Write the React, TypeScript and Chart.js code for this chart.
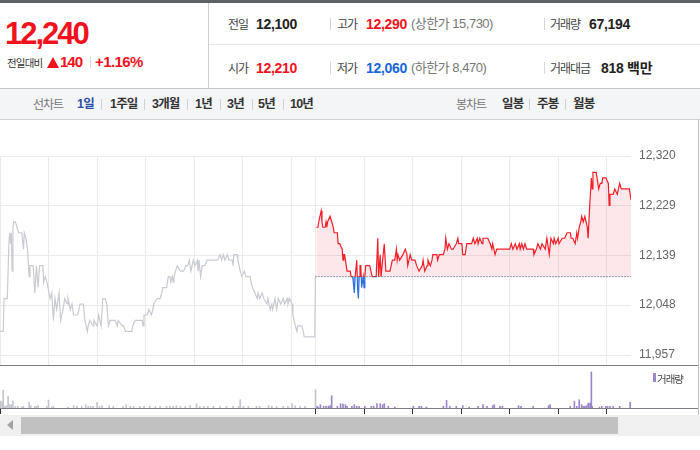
import React, { useEffect, useRef } from 'react';
import { Chart, registerables } from 'chart.js';

Chart.register(...registerables);

// ---------- data ----------
const PREV_CLOSE = 12100;
const Y_MIN = 11938.76;
const Y_MAX = 12320;
const yTickValues = [11957, 12048, 12139, 12229, 12320];
const xGridMinutes = [0, 60, 120, 180, 240, 300, 360, 390, 450, 510, 570, 630, 690, 750];
const volTickMinutes = [0, 390, 450, 510, 570, 630, 690, 750];
const X_MAX = 780;
const VOL_MAX = 12700;

// previous trading day (minutes from 09:00 of previous day)
const prevMinutes = [0, 4, 5, 9, 11, 12, 13, 14, 15, 16, 17, 19, 21, 23, 27, 29, 30, 32, 34, 36, 37, 41, 43, 45, 47, 49, 53, 54, 56, 58, 62, 64, 66, 68, 70, 73, 75, 78, 80, 83, 84, 87, 89, 91, 96, 99, 103, 105, 108, 109, 111, 115, 116, 120, 122, 125, 127, 130, 132, 134, 136, 142, 145, 146, 151, 153, 155, 163, 164, 167, 176, 177, 178, 182, 184, 187, 189, 190, 194, 198, 200, 201, 206, 208, 210, 211, 213, 214, 215, 219, 223, 227, 230, 232, 234, 236, 239, 241, 244, 245, 246, 248, 250, 253, 256, 269, 272, 274, 276, 278, 281, 283, 287, 288, 289, 293, 294, 297, 299, 302, 304, 309, 312, 315, 318, 319, 321, 324, 326, 330, 331, 334, 336, 337, 340, 342, 344, 347, 350, 352, 355, 356, 358, 361, 362, 365, 367, 368, 373, 375, 376, 389, 390];
const prevPrices = [12000, 12000, 12060, 12060, 12160, 12180, 12160, 12180, 12110, 12190, 12200, 12200, 12190, 12180, 12180, 12150, 12180, 12170, 12150, 12100, 12120, 12120, 12070, 12120, 12080, 12120, 12120, 12090, 12100, 12090, 12060, 12070, 12020, 12060, 12040, 12070, 12020, 12040, 12060, 12050, 12060, 12040, 12050, 12030, 12030, 12050, 12050, 12020, 12000, 12010, 12020, 12010, 12020, 12010, 12030, 12010, 12060, 12060, 12050, 12010, 12020, 12020, 12010, 12020, 12010, 12010, 12000, 12000, 12010, 12020, 12020, 12010, 12030, 12030, 12040, 12030, 12040, 12050, 12060, 12060, 12070, 12080, 12080, 12100, 12100, 12090, 12100, 12090, 12100, 12120, 12110, 12110, 12120, 12120, 12130, 12110, 12130, 12120, 12130, 12110, 12130, 12100, 12120, 12120, 12130, 12130, 12140, 12130, 12140, 12130, 12140, 12130, 12130, 12120, 12140, 12140, 12130, 12110, 12100, 12110, 12100, 12100, 12080, 12070, 12060, 12070, 12060, 12070, 12060, 12050, 12060, 12040, 12050, 12040, 12060, 12040, 12060, 12050, 12060, 12050, 12060, 12050, 12060, 12050, 12030, 12010, 12000, 12010, 12010, 12000, 11990, 11990, 12100];

// current trading day (minutes, continuing after previous day)
const curMinutes = [391, 393, 394, 397, 398, 399, 402, 403, 404, 405, 408, 410, 412, 413, 417, 418, 420, 423, 424, 425, 426, 428, 429, 433, 434, 436, 438, 439, 441, 442, 443, 444, 445, 446, 447, 449, 450, 451, 452, 457, 460, 465, 467, 468, 470, 471, 473, 475, 477, 482, 485, 488, 490, 491, 492, 494, 498, 501, 503, 504, 507, 509, 513, 515, 518, 522, 523, 525, 528, 529, 532, 534, 535, 540, 541, 543, 548, 550, 551, 553, 555, 558, 560, 564, 566, 567, 571, 572, 575, 577, 583, 585, 587, 590, 591, 593, 596, 597, 603, 606, 608, 609, 612, 614, 630, 632, 634, 637, 639, 642, 643, 645, 647, 649, 651, 659, 660, 663, 665, 668, 670, 674, 676, 679, 681, 684, 685, 687, 690, 691, 695, 698, 701, 705, 706, 708, 711, 713, 714, 716, 718, 719, 721, 723, 726, 727, 729, 731, 732, 733, 737, 738, 740, 742, 744, 745, 749, 752, 753, 754, 758, 760, 763, 766, 768, 778, 780];
const curPrices = [12190, 12190, 12200, 12220, 12200, 12190, 12190, 12200, 12190, 12200, 12210, 12200, 12190, 12180, 12180, 12160, 12160, 12150, 12130, 12140, 12140, 12120, 12110, 12110, 12100, 12100, 12070, 12100, 12130, 12080, 12060, 12100, 12120, 12120, 12080, 12100, 12080, 12100, 12120, 12120, 12100, 12100, 12170, 12100, 12140, 12100, 12130, 12160, 12110, 12110, 12130, 12130, 12150, 12130, 12140, 12130, 12140, 12150, 12140, 12120, 12140, 12130, 12130, 12120, 12110, 12120, 12130, 12110, 12120, 12130, 12120, 12130, 12140, 12140, 12130, 12140, 12140, 12150, 12170, 12150, 12160, 12150, 12150, 12160, 12170, 12160, 12160, 12140, 12140, 12160, 12160, 12170, 12160, 12170, 12160, 12170, 12160, 12170, 12170, 12160, 12150, 12160, 12140, 12150, 12150, 12160, 12150, 12160, 12150, 12160, 12150, 12160, 12150, 12160, 12150, 12150, 12140, 12150, 12160, 12150, 12160, 12150, 12170, 12140, 12170, 12160, 12170, 12160, 12170, 12160, 12170, 12170, 12180, 12180, 12170, 12170, 12160, 12180, 12170, 12190, 12200, 12210, 12200, 12210, 12190, 12170, 12230, 12280, 12260, 12290, 12290, 12280, 12260, 12270, 12270, 12280, 12280, 12270, 12230, 12250, 12250, 12260, 12250, 12270, 12260, 12260, 12240];

// volumes
const prevVolMinutes = [1, 3, 4, 6, 8, 10, 12, 14, 16, 19, 22, 27, 29, 36, 38, 43, 45, 47, 58, 60, 64, 66, 84, 91, 95, 101, 106, 109, 112, 115, 120, 123, 126, 135, 140, 152, 156, 161, 165, 173, 178, 185, 192, 198, 206, 210, 214, 218, 223, 229, 235, 243, 247, 252, 257, 264, 272, 280, 288, 295, 297, 301, 307, 317, 321, 332, 336, 342, 350, 356, 361, 365, 371, 377, 390];
const prevVolumes = [2100, 1800, 5400, 500, 700, 3500, 1000, 1000, 2100, 500, 500, 300, 500, 1700, 700, 500, 500, 700, 500, 2400, 300, 500, 300, 700, 500, 500, 1000, 500, 500, 500, 1700, 500, 700, 700, 500, 500, 1000, 500, 500, 500, 500, 500, 500, 500, 500, 500, 500, 700, 500, 500, 700, 1300, 500, 500, 500, 500, 500, 500, 500, 500, 2500, 500, 500, 500, 500, 700, 500, 500, 500, 500, 1300, 700, 500, 500, 5500];
const curVolMinutes = [392, 393, 396, 400, 403, 406, 408, 410, 417, 421, 424, 427, 429, 435, 438, 441, 444, 451, 459, 462, 466, 470, 473, 475, 480, 488, 511, 518, 521, 527, 548, 552, 556, 564, 572, 580, 591, 597, 602, 609, 611, 618, 621, 641, 644, 659, 678, 680, 705, 710, 713, 716, 719, 721, 723, 725, 727, 728, 730, 731, 732, 741, 744, 749, 751, 754, 758, 766, 779];
const curVolumes = [500, 300, 1000, 500, 500, 500, 700, 3700, 500, 1300, 1200, 1000, 500, 500, 1000, 500, 500, 500, 500, 500, 1300, 1300, 1000, 1300, 500, 300, 500, 500, 500, 300, 500, 2300, 500, 500, 700, 300, 500, 1000, 500, 700, 1000, 500, 500, 700, 500, 500, 700, 1000, 500, 2000, 500, 2500, 1000, 500, 500, 700, 1300, 1500, 1500, 10900, 500, 300, 500, 500, 500, 500, 500, 500, 1700];

// header figures
const currentPrice = '12,240';
const changeAbs = '140';
const changePct = '+1.16%';
const statRow1 = { prev: '12,100', high: '12,290', upper: '15,730', volume: '67,194' };
const statRow2 = { open: '12,210', low: '12,060', lower: '8,470', amount: '818' };
const lineRanges = ['1일', '1주일', '3개월', '1년', '3년', '5년', '10년'];
const candleRanges = ['일봉', '주봉', '월봉'];

// ---------- styles ----------
const RED = '#f21e28';
const BLUE = '#2b6fdc';
const TXT_RED = '#f0131e';
const TXT_BLUE = '#1a66d9';
const LATIN = '"Liberation Sans", "Noto Sans CJK KR", Arial, sans-serif';
const KR = '"Noto Sans CJK KR", "Liberation Sans", sans-serif';

const toXY = (xs: number[], ys: number[]) => xs.map((x, i) => ({ x, y: ys[i] }));

type TProps = { x: number; cy: number; size?: number; color?: string; weight?: number; ls?: number; family?: string; children: React.ReactNode };
const T = ({ x, cy, size = 12, color = '#333', weight = 400, ls = 0, family = LATIN, children }: TProps) => (
  <div style={{ position: 'absolute', left: x, top: cy - 10, height: 20, lineHeight: '20px', fontSize: size, color, fontWeight: weight, letterSpacing: ls, whiteSpace: 'nowrap', fontFamily: family }}>{children}</div>
);
const Sep = ({ x, cy, h = 12, color = '#d6d6d6' }: { x: number; cy: number; h?: number; color?: string }) => (
  <div style={{ position: 'absolute', left: x, top: cy - h / 2, width: 1, height: h, background: color }} />
);
const Box = (p: { l: number; t: number; w: number; h: number; bg: string; extra?: React.CSSProperties }) => (
  <div style={{ position: 'absolute', left: p.l, top: p.t, width: p.w, height: p.h, background: p.bg, ...(p.extra || {}) }} />
);

export default function App() {
  const priceRef = useRef<HTMLCanvasElement>(null);
  const volRef = useRef<HTMLCanvasElement>(null);

  useEffect(() => {
    const lineColor = (ctx: any) => {
      const chart = ctx.chart;
      const area = chart.chartArea;
      if (!area) return RED;
      const y0 = chart.scales.y.getPixelForValue(PREV_CLOSE);
      const g = chart.ctx.createLinearGradient(0, area.top, 0, area.bottom);
      const s = Math.min(1, Math.max(0, (y0 - area.top) / (area.bottom - area.top)));
      g.addColorStop(0, RED);
      g.addColorStop(s, RED);
      g.addColorStop(s, BLUE);
      g.addColorStop(1, BLUE);
      return g;
    };

    const price = new Chart(priceRef.current!, {
      type: 'line',
      data: {
        datasets: [
          { label: '전일종가', data: [{ x: 390, y: PREV_CLOSE }, { x: X_MAX, y: PREV_CLOSE }], borderColor: '#555', borderWidth: 1, borderDash: [1, 2], pointRadius: 0, fill: false, order: 0 },
          { label: '당일', data: toXY(curMinutes, curPrices), borderColor: lineColor, borderWidth: 1.2, pointRadius: 0, fill: { target: { value: PREV_CLOSE }, above: 'rgba(240,60,80,0.12)', below: 'rgba(50,120,225,0.45)' }, order: 1 },
          { label: '전일', data: toXY(prevMinutes, prevPrices), borderColor: '#c8cbd1', borderWidth: 1.2, pointRadius: 0, fill: false, order: 2 },
        ],
      },
      options: {
        responsive: false,
        animation: false,
        events: [],
        layout: { padding: { top: 36, left: 0, right: 0, bottom: 0 } },
        plugins: { legend: { display: false }, tooltip: { enabled: false } },
        scales: {
          x: {
            type: 'linear', min: 0, max: X_MAX,
            afterBuildTicks: (s: any) => { s.ticks = xGridMinutes.map((v) => ({ value: v })); },
            afterFit: (s: any) => { s.height = 0; s.paddingLeft = 0; s.paddingRight = 0; },
            ticks: { display: false },
            grid: { color: '#ebebeb', drawTicks: false },
            border: { display: false },
          },
          y: {
            type: 'linear', position: 'right', min: Y_MIN, max: Y_MAX,
            afterBuildTicks: (s: any) => { s.ticks = yTickValues.map((v) => ({ value: v })); },
            afterFit: (s: any) => { s.width = 69; s.paddingTop = 0; s.paddingBottom = 0; },
            ticks: { padding: 8, color: '#666', font: { size: 12, family: '"Liberation Sans", Arial, sans-serif' }, callback: (v: any) => Number(v).toLocaleString('en-US') },
            grid: { color: '#ebebeb', drawTicks: false },
            border: { display: false },
          },
        },
      },
    } as any);

    const vol = new Chart(volRef.current!, {
      type: 'bar',
      data: {
        datasets: [
          { label: '거래량(전일)', data: toXY(prevVolMinutes, prevVolumes), backgroundColor: '#c3c6cc', barThickness: 1, grouped: false },
          { label: '거래량', data: toXY(curVolMinutes, curVolumes), backgroundColor: '#9a86c9', barThickness: 1, grouped: false },
        ],
      },
      options: {
        responsive: false,
        animation: false,
        events: [],
        layout: { padding: { top: 0, left: 0, right: 69, bottom: 0 } },
        plugins: { legend: { display: false }, tooltip: { enabled: false } },
        scales: {
          x: {
            type: 'linear', min: 0, max: X_MAX, offset: false,
            afterBuildTicks: (s: any) => { s.ticks = volTickMinutes.map((v) => ({ value: v })); },
            afterFit: (s: any) => { s.height = 6; s.paddingLeft = 0; s.paddingRight = 0; },
            ticks: { display: false },
            grid: { offset: false, drawOnChartArea: false, drawTicks: true, tickLength: 6, color: '#333' },
            border: { display: false },
          },
          y: { display: false, min: 0, max: VOL_MAX },
        },
      },
    } as any);

    return () => { price.destroy(); vol.destroy(); };
  }, []);

  return (
    <div style={{ position: 'fixed', left: 0, top: 0, width: 700, height: 450, background: '#fff', overflow: 'hidden', fontFamily: LATIN }}>
      {/* header frame */}
      <Box l={0} t={0} w={700} h={3} bg="#5e6166" />
      <Box l={208} t={3} w={1} h={85} bg="#cfcfcf" />
      <Box l={209} t={44} w={491} h={1} bg="#e6e6e6" />
      <Box l={0} t={88} w={700} h={32} bg="#f4f5f7" extra={{ boxSizing: 'border-box', borderTop: '1px solid #c6c6c6', borderBottom: '1px solid #d2d2d2' }} />

      {/* current price */}
      <T x={5} cy={33.5} size={31} weight={700} color={TXT_RED} ls={-2}>{currentPrice}</T>
      <T x={7} cy={62.5} size={10.5} family={KR} ls={-0.8} color="#333">전일대비</T>
      <div style={{ position: 'absolute', left: 47, top: 57, width: 0, height: 0, borderLeft: '6.5px solid transparent', borderRight: '6.5px solid transparent', borderBottom: `11px solid ${TXT_RED}` }} />
      <T x={60} cy={62} size={15} weight={700} color={TXT_RED} ls={-1}>{changeAbs}</T>
      <Sep x={90} cy={62} h={12} color="#dcdcdc" />
      <T x={95} cy={62} size={15} weight={700} color={TXT_RED} ls={-0.6}>{changePct}</T>

      {/* stats row 1 */}
      <T x={228} cy={24} family={KR} ls={-1} color="#444">전일</T>
      <T x={256} cy={24} size={14} weight={700} color="#222" ls={-0.3}>{statRow1.prev}</T>
      <Sep x={330} cy={24} />
      <T x={337} cy={24} family={KR} ls={-1} color="#444">고가</T>
      <T x={366} cy={24} size={14} weight={700} color={TXT_RED} ls={-0.3}>{statRow1.high}</T>
      <T x={411} cy={24} size={13} color="#777" ls={-0.5}>(상한가 {statRow1.upper})</T>
      <Sep x={544} cy={24} />
      <T x={550} cy={24} family={KR} ls={-1} color="#444">거래량</T>
      <T x={589} cy={24} size={14} weight={700} color="#222" ls={-0.3}>{statRow1.volume}</T>

      {/* stats row 2 */}
      <T x={228} cy={68} family={KR} ls={-1} color="#444">시가</T>
      <T x={256} cy={68} size={14} weight={700} color={TXT_RED} ls={-0.3}>{statRow2.open}</T>
      <Sep x={330} cy={68} />
      <T x={337} cy={68} family={KR} ls={-1} color="#444">저가</T>
      <T x={366} cy={68} size={14} weight={700} color={TXT_BLUE} ls={-0.3}>{statRow2.low}</T>
      <T x={411} cy={68} size={13} color="#777" ls={-0.5}>(하한가 {statRow2.lower})</T>
      <Sep x={544} cy={68} />
      <T x={550} cy={68} family={KR} ls={-1} color="#444">거래대금</T>
      <T x={601} cy={68} size={14} weight={700} color="#222" ls={-0.3}>{statRow2.amount} 백만</T>

      {/* toolbar */}
      <T x={33} cy={104} family={KR} ls={-1} color="#777">선차트</T>
      {lineRanges.map((r, i) => {
        const xs = [77, 110, 152, 195, 227, 258, 290];
        return <T key={r} x={xs[i]} cy={104} size={12.5} weight={700} ls={-0.8} color={i === 0 ? '#2b4ea8' : '#333'}>{r}</T>;
      })}
      {[101, 144, 187, 220, 252, 283].map((x) => <Sep key={x} x={x} cy={104} h={11} color="#d0d0d0" />)}
      <T x={456} cy={104} family={KR} ls={-1} color="#777">봉차트</T>
      {candleRanges.map((r, i) => {
        const xs = [502, 537, 573];
        return <T key={r} x={xs[i]} cy={104} size={12.5} weight={700} ls={-0.8} color="#333">{r}</T>;
      })}
      {[529, 565].map((x) => <Sep key={x} x={x} cy={104} h={11} color="#d0d0d0" />)}

      {/* price chart */}
      <div style={{ position: 'absolute', left: 0, top: 120, width: 700, height: 245 }}>
        <canvas ref={priceRef} width={700} height={245} style={{ display: 'block' }} />
      </div>
      <Box l={0} t={365} w={699} h={1} bg="#7b7f86" />

      {/* volume chart */}
      <div style={{ position: 'absolute', left: 0, top: 366, width: 700, height: 48 }}>
        <canvas ref={volRef} width={700} height={48} style={{ display: 'block' }} />
      </div>
      <Box l={0} t={408} w={699} h={1} bg="#7b7f86" />
      <Box l={653} t={373} w={3} h={9} bg="#9a86c9" />
      <T x={657} cy={378.5} size={10.5} family={KR} ls={-1} color="#444">거래량</T>

      {/* right border */}
      <Box l={698} t={119} w={1} h={296} bg="#bdbdbd" />

      {/* scrollbar */}
      <Box l={0} t={415} w={700} h={21} bg="#f0f0f0" />
      <div style={{ position: 'absolute', left: 7, top: 420, width: 0, height: 0, borderTop: '5.5px solid transparent', borderBottom: '5.5px solid transparent', borderRight: '6px solid #a3a3a3' }} />
      <Box l={21} t={417} w={597} h={17} bg="#c1c1c1" />
    </div>
  );
}
